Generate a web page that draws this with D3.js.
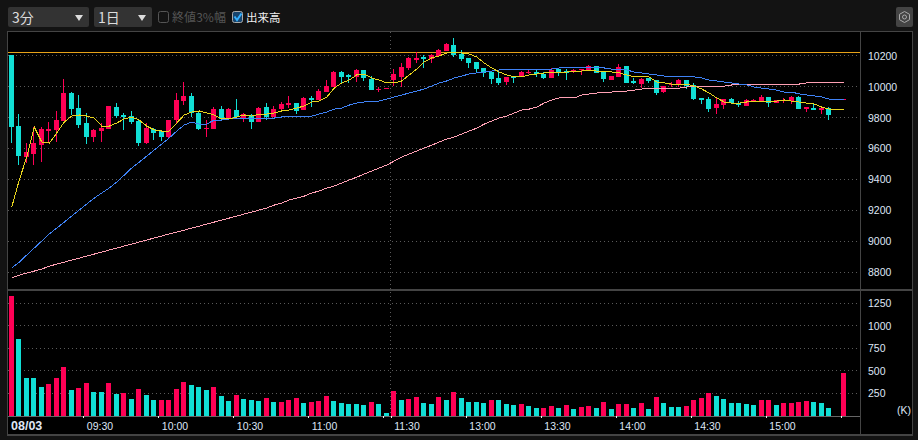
<!DOCTYPE html>
<html>
<head>
<meta charset="utf-8">
<script src="https://cdnjs.cloudflare.com/ajax/libs/d3/7.8.5/d3.min.js"></script>
<style>
  html, body { margin: 0; padding: 0; background: #131313; overflow: hidden; }
  text { font-family: "Liberation Sans", sans-serif; }
  .jp { font-family: "Noto Sans CJK JP", sans-serif; }
</style>
</head>
<body>
<div id="chart"></div>
<script>
// 3 minute candles, index 0 = 09:00, index 110 has no trade
var opens = [10202,9742,9542,9561,9619,9710,9717,9775,9956,9859,
  9762,9671,9710,9723,9865,9814,9807,9775,9632,9723,
  9710,9671,9781,9904,9937,9827,9723,9723,9852,9788,
  9846,9794,9807,9768,9865,9801,9852,9878,9891,9846,
  9924,9911,9962,9995,10092,10073,10060,10105,10047,9975,
  9982,10040,10060,10118,10170,10189,10176,10195,10228,10267,
  10208,10183,10157,10118,10092,10053,10027,10066,10060,10085,
  10092,10079,10053,10111,10098,10092,10105,10105,10131,10092,
  10040,10060,10131,10034,10014,10053,10040,9962,10008,10014,
  10040,10008,9924,9917,9859,9878,9917,9891,9872,9904,
  9904,9930,9891,9904,9904,9930,9852,9859,9846,9859,
  null,9917];
var highs = [10202,9820,9632,9736,9736,9768,9840,10047,9962,9943,
  9827,9723,9762,9872,9891,9827,9840,9781,9762,9729,
  9717,9781,9956,10027,9956,9840,9781,9865,9872,9859,
  9917,9827,9820,9865,9891,9872,9898,9937,9891,9930,
  9937,9982,10040,10098,10098,10079,10111,10105,10066,9995,
  9988,10111,10150,10189,10221,10202,10208,10241,10280,10312,
  10234,10183,10157,10118,10098,10092,10060,10066,10098,10105,
  10105,10092,10118,10111,10111,10111,10111,10137,10131,10092,
  10066,10144,10131,10053,10053,10053,10040,10001,10027,10047,
  10040,10021,9924,9930,9930,9917,9924,9904,9917,9917,
  9943,9930,9911,9924,9937,9937,9865,9885,9872,9865,
  null,9917];
var lows = [9632,9490,9503,9490,9509,9632,9639,9775,9814,9729,
  9626,9639,9639,9723,9794,9717,9755,9613,9626,9652,
  9645,9658,9762,9878,9801,9717,9671,9723,9775,9781,
  9788,9768,9723,9768,9781,9801,9840,9859,9820,9846,
  9865,9911,9962,9995,10021,10021,10027,10034,9975,9962,
  9982,10001,9995,10105,10150,10118,10150,10195,10228,10189,
  10163,10118,10085,10060,10014,10008,10008,10021,10060,10079,
  10060,10047,10053,10066,10040,10085,10073,10105,10085,10027,
  10040,10060,10021,10014,9988,10021,9943,9956,9995,9995,
  9982,9911,9885,9833,9820,9852,9885,9865,9872,9898,
  9904,9865,9891,9891,9885,9852,9833,9846,9820,9781,
  null,9917];
var closes = [9736,9550,9574,9632,9723,9720,9781,9956,9852,9749,
  9671,9717,9729,9872,9807,9801,9768,9632,9729,9697,
  9671,9781,9911,9937,9827,9723,9729,9852,9788,9852,
  9801,9820,9768,9859,9801,9852,9885,9891,9840,9924,
  9911,9969,10001,10092,10060,10060,10105,10053,9975,9982,
  9988,10079,10124,10183,10183,10176,10202,10234,10273,10202,
  10176,10150,10111,10085,10047,10021,10060,10053,10092,10092,
  10079,10053,10105,10085,10085,10105,10111,10131,10085,10047,
  10066,10124,10021,10021,10047,10034,9956,10001,10014,10040,
  10001,9917,9911,9852,9885,9917,9891,9878,9911,9911,
  9930,9891,9911,9911,9930,9852,9865,9846,9859,9814,
  null,9917];

var maShort = [9218,9393,9542,9736,9639,9632,9697,9768,9807,9814,
  9807,9794,9742,9742,9762,9788,9801,9781,9742,9717,
  9710,9710,9762,9814,9833,9840,9827,9814,9788,9788,
  9801,9814,9807,9820,9820,9827,9840,9846,9859,9872,
  9898,9904,9930,9988,10021,10040,10073,10079,10053,10040,
  10021,10021,10034,10073,10111,10157,10183,10196,10215,10215,
  10215,10208,10189,10150,10118,10092,10073,10060,10060,10073,
  10079,10086,10086,10086,10092,10092,10098,10105,10098,10092,
  10092,10086,10073,10060,10060,10060,10027,10021,10014,10014,
  10014,10001,9982,9956,9924,9898,9891,9891,9898,9898,
  9904,9904,9904,9911,9904,9898,9891,9885,9865,9852,
  9846,9852];
var maMid = [8824,8862,8908,8953,8998,9044,9082,9121,9160,9199,
  9238,9276,9309,9341,9380,9425,9471,9509,9548,9587,
  9626,9665,9710,9749,9768,9755,9755,9781,9781,9788,
  9788,9788,9788,9788,9794,9794,9801,9807,9807,9807,
  9807,9820,9833,9852,9859,9878,9891,9898,9904,9904,
  9917,9930,9943,9956,9969,9982,10001,10021,10034,10053,
  10066,10079,10086,10092,10098,10105,10111,10111,10111,10111,
  10111,10111,10111,10118,10124,10124,10124,10124,10124,10118,
  10111,10111,10105,10092,10086,10079,10073,10066,10066,10066,
  10066,10060,10053,10040,10034,10027,10021,10014,10008,9995,
  9988,9982,9975,9962,9962,9950,9943,9937,9930,9917,
  9911,9911];
var maLong = [8759,8778,8791,8804,8817,8836,8849,8862,8875,8888,
  8901,8914,8927,8940,8953,8966,8979,8992,9005,9018,
  9031,9044,9056,9069,9082,9095,9108,9121,9134,9147,
  9160,9173,9186,9199,9212,9231,9244,9264,9276,9289,
  9309,9322,9341,9354,9374,9393,9412,9432,9451,9471,
  9490,9516,9542,9561,9581,9600,9619,9639,9658,9671,
  9691,9710,9729,9755,9775,9794,9807,9827,9846,9852,
  9865,9891,9911,9924,9924,9924,9943,9950,9956,9962,
  9962,9969,9969,9975,9982,9982,9982,9982,9988,9988,
  9995,9995,9995,9995,10001,10001,10008,10008,10008,10008,
  10008,10014,10014,10014,10014,10014,10021,10021,10021,10021,
  10021,10021];

var volumes = [1325,849,417,417,317,351,417,539,284,306,
  362,262,262,362,240,251,185,295,229,173,
  173,173,295,373,339,317,284,317,218,162,
  229,185,173,162,196,151,151,173,196,140,
  151,162,218,162,140,129,129,118,151,129,
  30,273,173,185,207,140,129,207,173,262,
  196,151,151,140,173,173,129,118,129,107,
  85,85,107,85,118,74,96,107,85,151,
  74,129,129,85,140,74,207,140,96,96,
  107,173,196,251,218,185,140,140,129,118,
  173,173,118,140,140,151,162,151,140,85,
  null,472];
var volUp = [1,0,0,0,0,1,1,1,0,1,
  1,0,0,1,0,1,0,1,0,0,
  1,1,1,1,0,0,0,1,0,0,
  1,0,0,0,1,0,1,1,1,0,
  1,1,1,0,0,0,0,0,1,0,
  0,1,0,1,1,0,0,1,0,1,
  0,0,0,0,1,0,0,0,1,0,
  0,1,1,0,1,0,1,1,0,1,
  0,1,1,0,1,0,1,0,0,0,
  1,1,1,1,0,0,0,0,0,0,
  1,1,0,1,1,1,1,0,0,0,
  0,1];

var priceTicks = [10200,10000,9800,9600,9400,9200,9000,8800];
var volTicks = [1250,1000,750,500,250];
var timeTicks = [10,20,30,40,50,51,61,71,81,91,101,111];
var timeLabels = ["09:30","10:00","10:30","11:00","","11:30","13:00","13:30","14:00","14:30","15:00",""];
var priceLine = 10220;

var width = 918, height = 440;
var red = "#ff0055", teal = "#11dfd5", frame = "#444", grid = "#5a5a5a", label = "#dfe6f5";

var svg = d3.select("#chart").append("svg")
    .attr("width", width)
    .attr("height", height)
    .style("display", "block");

svg.append("rect").attr("width", width).attr("height", height).attr("fill", "#131313");
svg.append("rect").attr("x", 7.5).attr("y", 31.5).attr("width", 905).attr("height", 403)
    .attr("fill", "#000").attr("stroke", frame).attr("shape-rendering", "crispEdges");

// scales
var index = d3.range(opens.length);
var x = d3.scaleBand().domain(index).range([8, 848]);
var xTick = d3.scaleLinear().domain([0, 112]).range([8.3, 848.3]);
var y = d3.scaleLinear().domain([8800, 10200]).range([271.7, 55.3]);
var yVol = d3.scaleLinear().domain([0, 1250]).range([415.6, 302.6]);

function left(i) { return Math.floor(x(i) + 1.25); }

// grid
var gridLines = svg.append("g").attr("stroke", grid).attr("stroke-dasharray", "1,3").attr("shape-rendering", "crispEdges");
gridLines.selectAll(".gp").data(priceTicks).enter().append("line").attr("class", "gp")
    .attr("x1", 8).attr("x2", 858)
    .attr("y1", function(d) { return Math.round(y(d)) + 0.5; })
    .attr("y2", function(d) { return Math.round(y(d)) + 0.5; });
gridLines.selectAll(".gv").data(volTicks).enter().append("line").attr("class", "gv")
    .attr("x1", 8).attr("x2", 858)
    .attr("y1", function(d) { return Math.round(yVol(d)) + 0.5; })
    .attr("y2", function(d) { return Math.round(yVol(d)) + 0.5; });
gridLines.append("line")
    .attr("x1", xTick(51)).attr("x2", xTick(51))
    .attr("y1", 32).attr("y2", 416);

// panel frame
var frameLines = svg.append("g").attr("stroke", frame).attr("shape-rendering", "crispEdges");
frameLines.append("line").attr("x1", 860.5).attr("x2", 860.5).attr("y1", 31).attr("y2", 435);
frameLines.append("rect").attr("x", 7).attr("y", 289).attr("width", 906).attr("height", 2).attr("fill", frame).attr("stroke", "none");
frameLines.append("rect").attr("x", 7).attr("y", 434).attr("width", 906).attr("height", 2).attr("fill", frame).attr("stroke", "none");
frameLines.append("line").attr("x1", 8).attr("x2", 860).attr("y1", 416.5).attr("y2", 416.5).attr("stroke", "#666");

// limit line
svg.append("line")
    .attr("x1", 8).attr("x2", 860)
    .attr("y1", Math.round(y(priceLine)) + 0.5).attr("y2", Math.round(y(priceLine)) + 0.5)
    .attr("stroke", "#e6a117").attr("shape-rendering", "crispEdges");

// candles
var present = index.filter(function(i) { return opens[i] !== null; });
function candleColor(i) { return closes[i] >= opens[i] ? red : teal; }

svg.append("g").selectAll("rect").data(present).enter().append("rect")
    .attr("x", function(i) { return left(i) + 2; })
    .attr("width", 1)
    .attr("y", function(i) { return y(highs[i]); })
    .attr("height", function(i) { return Math.max(1, y(lows[i]) - y(highs[i])); })
    .attr("fill", candleColor)
    .attr("shape-rendering", "crispEdges");

svg.append("g").selectAll("rect").data(present).enter().append("rect")
    .attr("x", left)
    .attr("width", 5)
    .attr("y", function(i) { return y(Math.max(opens[i], closes[i])); })
    .attr("height", function(i) { return Math.max(1, Math.abs(y(opens[i]) - y(closes[i]))); })
    .attr("fill", candleColor)
    .attr("shape-rendering", "crispEdges");

// moving averages
var maLine = d3.line()
    .x(function(d, i) { return x(i) + x.bandwidth() / 2; })
    .y(function(d) { return y(d); });
svg.append("path").datum(maLong).attr("d", maLine).attr("fill", "none").attr("stroke", "#ffa0b4").attr("shape-rendering", "crispEdges");
svg.append("path").datum(maMid).attr("d", maLine).attr("fill", "none").attr("stroke", "#3f82f5").attr("shape-rendering", "crispEdges");
svg.append("path").datum(maShort).attr("d", maLine).attr("fill", "none").attr("stroke", "#e8d41e").attr("shape-rendering", "crispEdges");

// volume
var volIndex = index.filter(function(i) { return volumes[i] !== null; });
svg.append("g").selectAll("rect").data(volIndex).enter().append("rect")
    .attr("x", left)
    .attr("width", 5)
    .attr("y", function(i) { return yVol(volumes[i]); })
    .attr("height", function(i) { return yVol(0) - yVol(volumes[i]); })
    .attr("fill", function(i) { return volUp[i] ? red : teal; })
    .attr("shape-rendering", "crispEdges");

// axes
var axisPrice = d3.axisRight(y).tickValues(priceTicks).tickSize(0).tickPadding(0).tickFormat(d3.format("d"));
var gPrice = svg.append("g").attr("transform", "translate(868,0.5)").call(axisPrice);
var axisVol = d3.axisRight(yVol).tickValues(volTicks).tickSize(0).tickPadding(0).tickFormat(d3.format("d"));
var gVol = svg.append("g").attr("transform", "translate(868,0.5)").call(axisVol);
[gPrice, gVol].forEach(function(g) {
    g.select(".domain").remove();
    g.selectAll("text").attr("fill", label).attr("font-size", 10.5).attr("font-family", "Liberation Sans");
});

var axisTime = d3.axisBottom(xTick).tickValues(timeTicks).tickSize(2).tickPadding(5)
    .tickFormat(function(d) { return timeLabels[timeTicks.indexOf(d)]; });
var gTime = svg.append("g").attr("transform", "translate(0,416)").call(axisTime);
gTime.select(".domain").remove();
gTime.selectAll("line").attr("stroke", "#eee").attr("shape-rendering", "crispEdges");
gTime.selectAll("text").attr("fill", label).attr("font-size", 10.5).attr("font-family", "Liberation Sans")
    .attr("text-anchor", "start").attr("dx", 3);

svg.append("text").attr("x", 11).attr("y", 430).attr("fill", label)
    .attr("font-size", 12.5).attr("font-weight", "bold").text("08/03");
svg.append("text").attr("x", 897).attr("y", 414).attr("fill", label)
    .attr("font-size", 10.5).text("(K)");

// toolbar
function dropdown(bx, bw, txt) {
    svg.append("rect").attr("x", bx).attr("y", 7).attr("width", bw).attr("height", 20).attr("rx", 2).attr("fill", "#333");
    svg.append("text").attr("class", "jp").attr("x", bx + 4).attr("y", 22.5).attr("fill", "#ddd").attr("font-size", 14).text(txt);
    svg.append("path")
        .attr("d", "M" + (bx + bw - 14) + ",15L" + (bx + bw - 6) + ",15L" + (bx + bw - 10) + ",21Z")
        .attr("fill", "#ddd");
}
dropdown(8, 81, "3分");
dropdown(94, 58, "1日");

svg.append("rect").attr("x", 158.5).attr("y", 11.5).attr("width", 10).attr("height", 11).attr("rx", 2)
    .attr("fill", "none").attr("stroke", "#555");
svg.append("text").attr("class", "jp").attr("x", 172).attr("y", 22).attr("fill", "#555").attr("font-size", 12)
    .attr("textLength", 54).text("終値3%幅");

svg.append("rect").attr("x", 232.5).attr("y", 11.5).attr("width", 10).attr("height", 11).attr("rx", 2)
    .attr("fill", "#17456e").attr("stroke", "#aaa");
svg.append("path").attr("d", "M234.5,16.5L237,20L241.5,13.5").attr("fill", "none").attr("stroke", "#35b0ff").attr("stroke-width", 2);
svg.append("text").attr("class", "jp").attr("x", 246).attr("y", 22).attr("fill", "#eee").attr("font-size", 11.5)
    .text("出来高");

// settings button
svg.append("rect").attr("x", 896).attr("y", 7).attr("width", 17).attr("height", 20).attr("rx", 2).attr("fill", "#444");
svg.append("path").attr("d", "M904.5,11.5L909.5,14.3L909.5,19.7L904.5,22.5L899.5,19.7L899.5,14.3Z")
    .attr("fill", "none").attr("stroke", "#aaa");
svg.append("circle").attr("cx", 904.5).attr("cy", 17).attr("r", 2).attr("fill", "none").attr("stroke", "#aaa");
</script>
</body>
</html>
